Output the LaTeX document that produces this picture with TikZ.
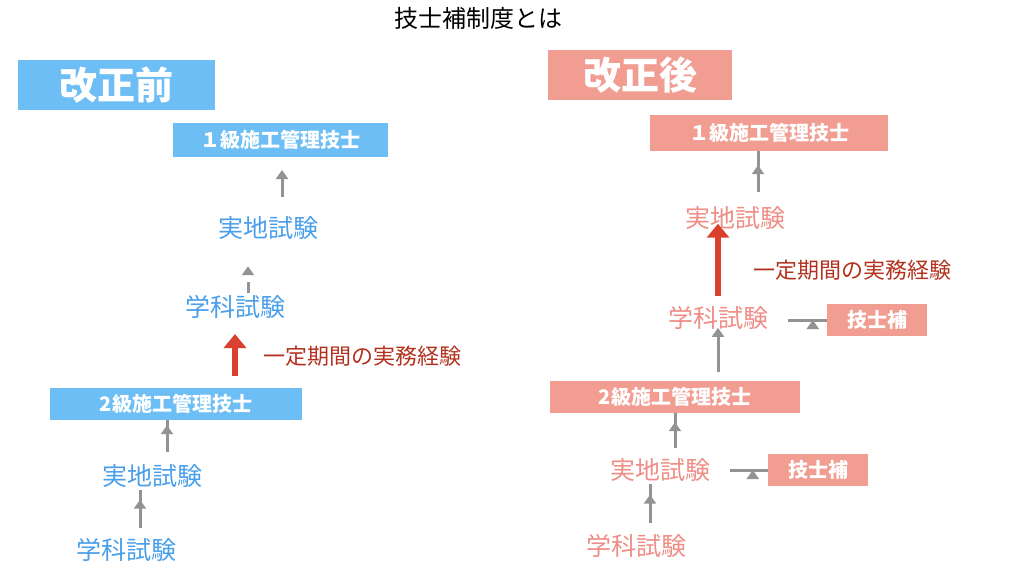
\documentclass[tikz,border=0pt]{standalone}
\usepackage{fontspec}
\setmainfont{Noto Sans CJK JP}
\usetikzlibrary{arrows.meta}
\definecolor{bfill}{HTML}{6DBEF5}
\definecolor{btext}{HTML}{4A9FEA}
\definecolor{pfill}{HTML}{F19D92}
\definecolor{ptext}{HTML}{EE8E86}
\definecolor{redarr}{HTML}{D9412E}
\definecolor{redlab}{HTML}{B2321F}
\tikzset{
  hdr/.style={fill=#1,text=white,font=\fontsize{38}{38}\selectfont\bfseries,inner sep=0pt},
  lbox/.style={fill=#1,text=white,font=\fontsize{20}{20}\selectfont\bfseries,inner sep=0pt},
  step/.style={text=#1,font=\fontsize{25}{25}\selectfont,inner sep=2pt},
  garrow/.style={draw=gray!85,line width=3pt,-{Triangle[length=9pt,width=12pt]}},
  rarrow/.style={draw=redarr,line width=6pt,-{Triangle[length=14pt,width=22pt]}},
  rlab/.style={text=redlab,font=\fontsize{22}{22}\selectfont,anchor=west}
}
\begin{document}
\begin{tikzpicture}[x=1pt,y=-1pt]
  \useasboundingbox (0,0) rectangle (1024,576);
  \node (title) [font=\fontsize{24}{24}\selectfont] at (478,18) {技士補制度とは};

  % before the revision
  \node (hl) [hdr=bfill,minimum width=197pt,minimum height=50pt] at (116,85) {改正前};
  \node (q1l) [lbox=bfill,minimum width=215pt,minimum height=34pt] at (280,140) {１級施工管理技士};
  \node (jl1) [step=btext] at (268,228) {実地試験};
  \node (gl1) [step=btext] at (235,307) {学科試験};
  \node (rl) [rlab] at (260,356) {一定期間の実務経験};
  \node (q2l) [lbox=bfill,minimum width=252pt,minimum height=32pt] at (176,404) {2級施工管理技士};
  \node (jl2) [step=btext] at (152,476) {実地試験};
  \node (gl2) [step=btext] at (126,550) {学科試験};

  \draw[garrow] (282,197) -- (282,170);
  \draw[garrow] (248,282) -- (gl1.north -| 248,0) ++(0,-27);
  \draw[rarrow] (q2l.north -| 235,0) ++(0,-12) -- (235,334);
  \draw[garrow] (167,452) -- (q2l.south -| 167,0) ++(0,5);
  \draw[garrow] (140,528) -- (jl2.south -| 140,0) ++(0,10);

  % after the revision
  \node (hr) [hdr=pfill,minimum width=184pt,minimum height=50pt] at (640,75) {改正後};
  \node (q1r) [lbox=pfill,minimum width=238pt,minimum height=36pt] at (769,133) {１級施工管理技士};
  \node (jr1) [step=ptext] at (735,218) {実地試験};
  \node (rr) [rlab] at (750,270) {一定期間の実務経験};
  \node (gr1) [step=ptext] at (718,318) {学科試験};
  \node (sr1) [lbox=pfill,minimum width=100pt,minimum height=32pt] at (877,320) {技士補};
  \node (q2r) [lbox=pfill,minimum width=250pt,minimum height=32pt] at (675,397) {2級施工管理技士};
  \node (jr2) [step=ptext] at (660,470) {実地試験};
  \node (sr2) [lbox=pfill,minimum width=100pt,minimum height=32pt] at (818,470) {技士補};
  \node (gr2) [step=ptext] at (636,546) {学科試験};

  \draw[garrow] (758,192) -- (q1r.south -| 758,0) ++(0,14);
  \draw[rarrow] (718,296) -- (jr1.south -| 718,0) ++(0,-8);
  \draw[garrow] (788,320) -- (sr1.west) ++(-14,0);
  \draw[garrow] (718,372) -- (gr1.south -| 718,0) ++(0,-4);
  \draw[garrow] (675,448) -- (q2r.south -| 675,0) ++(0,9);
  \draw[garrow] (730,470) -- (sr2.west) ++(-15,0);
  \draw[garrow] (650,523) -- (jr2.south -| 650,0) ++(0,11);
\end{tikzpicture}
\end{document}
